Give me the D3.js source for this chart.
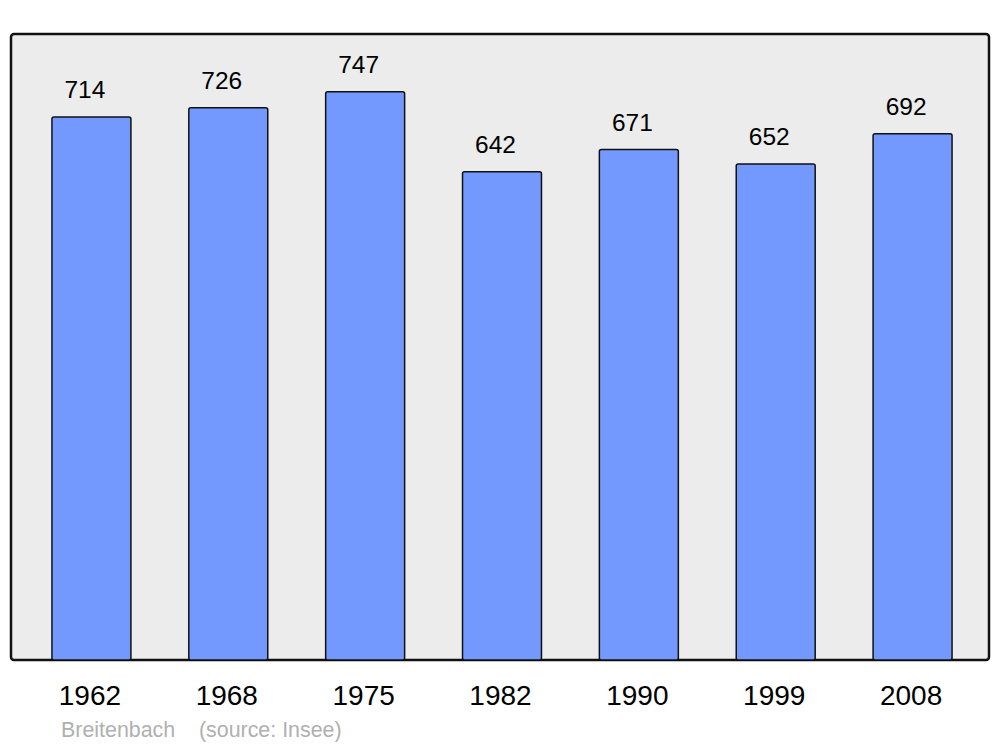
<!DOCTYPE html>
<html>
<head>
<meta charset="utf-8">
<script src="https://cdn.jsdelivr.net/npm/d3@7"></script>
<style>
  body { margin: 0; background: #fff; }
  text { font-family: "Liberation Sans", Arial, sans-serif; }
</style>
</head>
<body>
<script>
// Population data (Insee)
var years = ["1962", "1968", "1975", "1982", "1990", "1999", "2008"];
var population = [714, 726, 747, 642, 671, 652, 692];
var commune = "Breitenbach";
var source = "(source: Insee)";

var width = 1000,
  height = 747;

var svg = d3.select("body").append("svg")
  .attr("width", width)
  .attr("height", height);

// panel
svg.append("rect")
  .attr("x", 11)
  .attr("y", 34)
  .attr("width", 978)
  .attr("height", 626)
  .attr("rx", 3)
  .attr("fill", "#ececec")
  .attr("stroke", "#111")
  .attr("stroke-width", 2.5);

var x = d3.scaleBand()
  .domain(years)
  .range([23, 981])
  .paddingInner(0.423)
  .paddingOuter(0.2115);

var y = d3.scaleLinear()
  .domain([0, 823])
  .range([660, 34]);

var data = years.map(function (d, i) {
  return { year: d, value: population[i] };
});

svg.append("g")
  .selectAll("rect")
  .data(data)
  .enter().append("rect")
  .attr("x", function (d) { return x(d.year); })
  .attr("y", function (d) { return y(d.value); })
  .attr("width", x.bandwidth())
  .attr("height", function (d) { return y(0) - y(d.value); })
  .attr("rx", 2)
  .attr("fill", "#7399ff")
  .attr("stroke", "#111")
  .attr("stroke-width", 1.5);

// value labels
svg.append("g")
  .selectAll("text")
  .data(data)
  .enter().append("text")
  .attr("x", function (d) { return x(d.year) + x.bandwidth() / 2 - 6.5; })
  .attr("y", function (d) { return y(d.value) - 19; })
  .attr("text-anchor", "middle")
  .attr("font-size", 24.5)
  .attr("fill", "#000")
  .text(function (d) { return d.value; });

// year labels
svg.append("g")
  .selectAll("text")
  .data(data)
  .enter().append("text")
  .attr("x", function (d) { return x(d.year) + x.bandwidth() / 2 - 1.5; })
  .attr("y", 705)
  .attr("text-anchor", "middle")
  .attr("font-size", 28)
  .attr("fill", "#000")
  .text(function (d) { return d.year; });

// caption
svg.append("text")
  .attr("x", 61)
  .attr("y", 737)
  .attr("font-size", 21.4)
  .attr("fill", "#b0b0b0")
  .attr("xml:space", "preserve")
  .style("white-space", "pre")
  .text(commune + "    " + source);
</script>
</body>
</html>
